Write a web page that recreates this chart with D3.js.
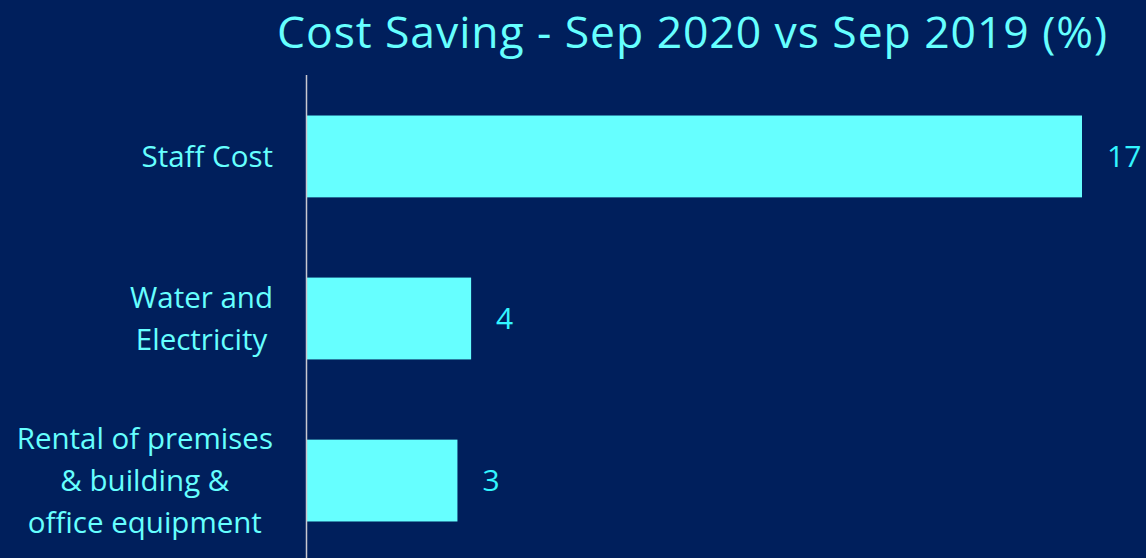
<!DOCTYPE html>
<html>
<head>
<meta charset="utf-8">
<script src="https://cdn.jsdelivr.net/npm/d3@7"></script>
<style>
  body { margin: 0; background: #001f5c; }
  text { font-family: "Open Sans", sans-serif; }
</style>
</head>
<body>
<div id="chart"></div>
<script>
// data
var categories = [
    ["Staff Cost"],
    ["Water and", "Electricity"],
    ["Rental of premises", "& building &", "office equipment"]
];
var values = [17, 3.6, 3.3];
var valueLabels = ["17", "4", "3"];
var title = "Cost Saving - Sep 2020 vs Sep 2019 (%)";

var width = 1146, height = 558;
var cyan = "#66ffff";

var svg = d3.select("#chart").append("svg")
    .attr("width", width)
    .attr("height", height);

svg.append("rect")
    .attr("width", width)
    .attr("height", height)
    .attr("fill", "#001f5c");

svg.append("text")
    .attr("x", 692)
    .attr("y", 48)
    .attr("text-anchor", "middle")
    .attr("fill", cyan)
    .attr("textLength", 830)
    .attr("lengthAdjust", "spacing")
    .style("font-size", "44.5px")
    .text(title);

var x = d3.scaleLinear()
    .domain([0, 17])
    .range([307, 1082]);

var y = d3.scaleBand()
    .domain(d3.range(values.length))
    .range([75, 562])
    .paddingInner(0.495)
    .paddingOuter(0.25);

svg.selectAll("rect.bar")
    .data(values)
    .enter().append("rect")
    .attr("class", "bar")
    .attr("x", x(0))
    .attr("y", function(d, i) { return y(i); })
    .attr("width", function(d) { return x(d) - x(0); })
    .attr("height", y.bandwidth())
    .attr("fill", cyan);

// axis line
svg.append("line")
    .attr("x1", x(0) - 0.5).attr("x2", x(0) - 0.5)
    .attr("y1", 75).attr("y2", height)
    .attr("stroke", "#c8c8d0")
    .attr("stroke-width", 1.5);

// value labels
svg.selectAll("text.val")
    .data(values)
    .enter().append("text")
    .attr("class", "val")
    .attr("x", function(d) { return x(d) + 25; })
    .attr("y", function(d, i) { return y(i) + y.bandwidth() / 2; })
    .attr("dy", "0.35em")
    .attr("fill", "#33f5ff")
    .style("font-size", "30px")
    .text(function(d, i) { return valueLabels[i]; });

// category labels: block right-aligned, lines centred inside it
var lineH = 42;
categories.forEach(function(lines, i) {
    var g = svg.append("g");
    var cy = y(i) + y.bandwidth() / 2;
    var t = g.selectAll("text")
        .data(lines)
        .enter().append("text")
        .attr("fill", cyan)
        .attr("text-anchor", "middle")
        .style("font-size", "29.5px")
        .attr("y", function(d, j) { return cy + (j - (lines.length - 1) / 2) * lineH; })
        .attr("dy", "0.35em")
        .text(function(d) { return d; });
    var maxW = d3.max(t.nodes(), function(n) { return n.getComputedTextLength(); });
    t.attr("x", 273 - maxW / 2);
});
</script>
</body>
</html>
